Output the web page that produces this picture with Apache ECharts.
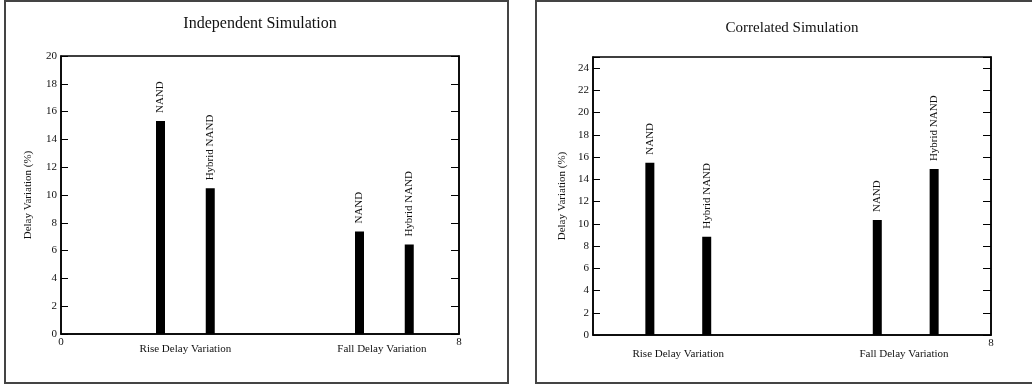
<!DOCTYPE html>
<html>
<head>
<meta charset="utf-8">
<script src="https://cdn.jsdelivr.net/npm/echarts@6/dist/echarts.min.js"></script>
<style>
html,body{margin:0;padding:0;background:#fff;}
#c{width:1032px;height:388px;}
</style>
</head>
<body>
<div id="c"></div>
<script>
// ---- data ----
const titles = ['Independent Simulation', 'Correlated Simulation'];
const yAxisName = 'Delay Variation (%)';
const groupNames = ['Rise Delay Variation', 'Fall Delay Variation'];
const barNames = ['NAND', 'Hybrid NAND', 'NAND', 'Hybrid NAND'];

// Independent simulation
const indepX = [2, 3, 6, 7];
const indepValues = [15.32, 10.48, 7.37, 6.43];
const indepGroupX = [2.5, 6.45];
const indepXRange = [0, 8];
const indepYRange = [0, 20];
const indepXTickLabels = ['0', '8'];

// Correlated simulation
const corrX = [1, 2, 5, 6];
const corrValues = [15.49, 8.84, 10.34, 14.92];
const corrGroupX = [1.5, 5.47];
const corrXRange = [0, 7];
const corrYRange = [0, 25];
const corrXTickLabels = ['', '8'];

const yInterval = 2;

// ---- chart ----
const FONT = 'Liberation Serif';
const chart = echarts.init(document.getElementById('c'), null, {renderer: 'canvas'});

const grids = [
  {left: 61, top: 56, width: 398, height: 278},
  {left: 593, top: 57, width: 398, height: 278}
];

function buildXAxes(gi, range, tickLabels, groupX, catMargin) {
  return [
    {
      type: 'value', gridIndex: gi, position: 'bottom', min: range[0], max: range[1],
      interval: range[1] - range[0],
      axisLine: {show: true, onZero: false, lineStyle: {color: '#000', width: 1.5}},
      axisTick: {show: false},
      splitLine: {show: false},
      axisLabel: {
        margin: 3, color: '#111', fontFamily: FONT, fontSize: 11,
        formatter: function (v) { return v === range[0] ? tickLabels[0] : (v === range[1] ? tickLabels[1] : ''); }
      }
    },
    {
      type: 'value', gridIndex: gi, position: 'bottom', offset: 0,
      min: range[0], max: range[1],
      axisLine: {show: false, onZero: false}, axisTick: {show: false}, splitLine: {show: false},
      axisLabel: {
        margin: catMargin, color: '#111', fontFamily: FONT, fontSize: 11,
        customValues: groupX,
        formatter: function (v) { const i = groupX.indexOf(v); return i >= 0 ? groupNames[i] : ''; }
      }
    }
  ];
}

function buildYAxes(gi, range, nameGap) {
  return [
    {
      type: 'value', gridIndex: gi, position: 'left', min: range[0], max: range[1], interval: yInterval,
      name: yAxisName, nameLocation: 'middle', nameGap: nameGap, nameRotate: 90,
      nameTextStyle: {fontFamily: FONT, fontSize: 11, color: '#111'},
      axisLine: {show: true, onZero: false, lineStyle: {color: '#000', width: 1.5}},
      axisTick: {show: true, inside: true, length: 7, lineStyle: {color: '#000', width: 1}},
      splitLine: {show: false},
      axisLabel: {
        margin: 4, color: '#111', fontFamily: FONT, fontSize: 11,
        formatter: function (v) { return (v % yInterval === 0) ? String(v) : ''; }
      }
    },
    {
      type: 'value', gridIndex: gi, position: 'right', min: range[0], max: range[1], interval: yInterval,
      axisLine: {show: true, onZero: false, lineStyle: {color: '#000', width: 1.5}},
      axisTick: {show: true, inside: true, length: 8, lineStyle: {color: '#000', width: 1}},
      splitLine: {show: false},
      axisLabel: {show: false}
    }
  ];
}

function buildSeries(xi, yi, xs, vals) {
  return {
    type: 'bar', xAxisIndex: xi, yAxisIndex: yi,
    barWidth: 9,
    itemStyle: {color: '#000'},
    data: xs.map(function (x, i) { return [x, vals[i]]; }),
    label: {
      show: true, position: 'top', rotate: 90, align: 'left', verticalAlign: 'middle',
      distance: 8, fontFamily: FONT, fontSize: 11, color: '#111',
      formatter: function (p) { return barNames[p.dataIndex]; }
    }
  };
}

const option = {
  animation: false,
  backgroundColor: '#fff',
  title: [
    {text: titles[0], left: 260, top: 16, textAlign: 'center', padding: 0,
     textStyle: {fontFamily: FONT, fontSize: 16, fontWeight: 'normal', color: '#111'}},
    {text: titles[1], left: 792, top: 21, textAlign: 'center', padding: 0,
     textStyle: {fontFamily: FONT, fontSize: 15, fontWeight: 'normal', color: '#111'}}
  ],
  grid: grids.map(function (g) {
    return Object.assign({show: true, borderColor: '#000', borderWidth: 1.5, backgroundColor: 'transparent'}, g);
  }),
  xAxis: buildXAxes(0, indepXRange, indepXTickLabels, indepGroupX, 10)
    .concat(buildXAxes(1, corrXRange, corrXTickLabels, corrGroupX, 14)),
  yAxis: buildYAxes(0, indepYRange, 27).concat(buildYAxes(1, corrYRange, 25)),
  series: [
    buildSeries(0, 0, indepX, indepValues),
    buildSeries(2, 2, corrX, corrValues)
  ],
  graphic: [
    {type: 'rect', shape: {x: 5, y: 1, width: 503, height: 382}, style: {fill: 'none', stroke: '#444', lineWidth: 2}, silent: true},
    {type: 'rect', shape: {x: 536, y: 1, width: 500, height: 382}, style: {fill: 'none', stroke: '#444', lineWidth: 2}, silent: true}
  ]
};
chart.setOption(option);
</script>
</body>
</html>
